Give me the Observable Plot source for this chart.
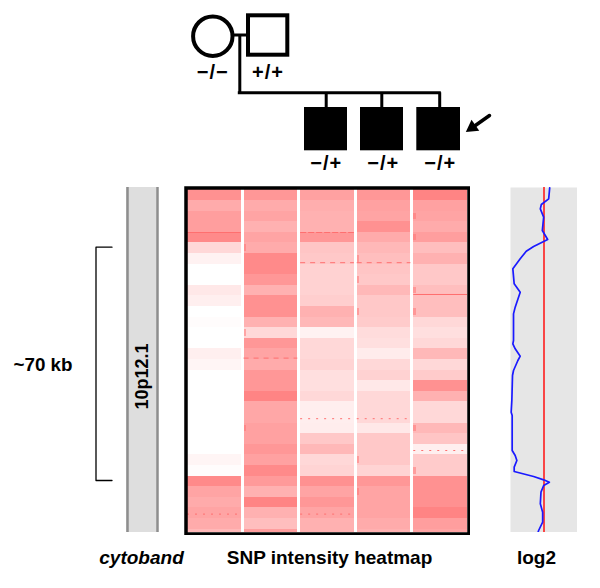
<!DOCTYPE html>
<html>
<head>
<meta charset="utf-8">
<script src="https://cdn.jsdelivr.net/npm/d3@7"></script>
<script src="https://cdn.jsdelivr.net/npm/@observablehq/plot@0.6"></script>
<style>
html,body{margin:0;padding:0;background:#fff}
#chart{position:relative;width:600px;height:588px;overflow:hidden}
.geno text{letter-spacing:1px}
</style>
</head>
<body>
<div id="chart"></div>
<script>
// SNP intensity (0 = white, 1 = full) per sample, top to bottom
const sample1 = [.85,.65,.75,.75,.9,.3,.1,0,0,.18,.12,0,.02,0,0,.12,.08,0,0,0,0,0,0,0,0,.08,.02,.9,.7,.65,.7,.65,.55];
const sample2 = [.8,.65,.7,.6,.7,.65,.9,.9,.8,.6,.85,.85,.6,.3,.8,.7,.65,.8,.8,.95,.68,.68,.72,.72,.8,.72,.9,.78,.6,.95,.6,.5,.75];
const sample3 = [.72,.62,.6,.6,.8,.45,.42,.35,.35,.35,.38,.6,.55,.1,.3,.3,.33,.25,.25,.3,.13,.13,.14,.42,.55,.3,.33,.85,.7,.8,.7,.6,.6];
const sample4 = [.8,.72,.7,.85,.65,.55,.5,.45,.42,.55,.42,.42,.4,.27,.25,.15,.3,.35,.18,.3,.3,.3,.18,.42,.42,.42,.33,.8,.7,.7,.7,.65,.6];
const sample5 = [.95,.72,.7,.65,.75,.5,.6,.42,.42,.5,.5,.5,.3,.25,.3,.55,.3,.4,.85,.6,.3,.3,.55,.45,.12,.4,.4,.85,.85,.85,.95,.75,.7];
const heatColumns = [sample1, sample2, sample3, sample4, sample5];

// log2 ratio trace along the region (position in kb)
const log2Pos = [0.1,3.4,5.1,6.4,8.9,12.9,15.6,17.7,19.1,21.4,24.4,28.9,31.4,35.9,37.9,45.9,46.9,48.4,50.6,51.9,54.9,56.4,63.9,67.4,68.4,78.9,80.4,81.9,83.9,85.2,86.7,87.7,88.4,89.4,91.4,94.9,97.4,100.4,102.9,103.5];
const log2Val = [.17,.14,-.08,-.11,-.01,-.05,.11,-.31,-.53,-.71,-.93,-.89,-.71,-.86,-.91,-.91,-.93,-.86,-.71,-.78,-.91,-.94,-.96,-.98,-.95,-.95,-.86,-.81,-.89,-.89,-.31,-.01,.16,-.01,-.09,-.11,-.04,-.04,-.16,-.18];

const parentGenotypes = ["\u2212/\u2212", "+/+"];
const childGenotypes = ["\u2212/+", "\u2212/+", "\u2212/+"];
const panelLabels = ["SNP intensity heatmap", "log2"];
const bandName = "10p12.1";
const spanLabel = "~70 kb";

// thin streaks in the heatmap: [sample, row]
const solidTopStreaks = [[0,4]];
const dashedTopStreaks = [[2,4]];
const solidLowStreaks = [[4,9]];
const dashedLowStreaks = [[2,6],[3,6],[1,15]];
const dottedMidStreaks = [[0,30],[2,30],[4,24],[2,21],[3,21]];
// short darker stubs on the left edge of a column: [sample, row]
const edgeStubs = [[1,5],[1,13],[1,22],[3,6],[3,8],[3,11],[3,25],[3,28],[4,2],[4,4],[4,9],[4,11],[4,22],[4,26]];

const rows = d3.range(sample1.length);
const samples = d3.range(heatColumns.length);
const cells = samples.flatMap(s => rows.map(r => ({s, r, v: heatColumns[s][r]})));
const color = d3.scaleLinear().domain([0,1]).range(["#ffffff","#ff7d7d"]);
const font = "'Liberation Sans', Arial, sans-serif";
const root = document.getElementById("chart");

// Diagram layer: pedigree, cytoband, bracket and labels
const pos = (l,t) => ({position:"absolute",left:l+"px",top:t+"px",background:"transparent",maxWidth:"none"});
const txt = {fontFamily:font, fontWeight:"bold", fill:"#000", textAnchor:"middle"};
const base = Plot.plot({
  width:600, height:588, margin:0, style:pos(0,0),
  x:{domain:[0,600],range:[0,600],axis:null},
  y:{domain:[0,588],range:[0,588],axis:null},
  marks:[
    // cytoband
    Plot.rect([0],{x1:126,x2:158,y1:187,y2:532,fill:"#dedede"}),
    Plot.ruleX([127,157],{y1:187,y2:532,stroke:"#8e8e8e",strokeWidth:2.5}),
    Plot.text([bandName],{x:142,y:376,text:d=>d,rotate:-90,fontSize:18,...txt}),
    // bracket
    Plot.line([[111.5,246.7],[95.5,246.7],[95.5,480],[111.5,480]],{x:"0",y:"1",stroke:"#000",strokeWidth:1.3}),
    Plot.text([spanLabel],{x:42.5,y:364,text:d=>d,fontSize:18.8,...txt}),
    // pedigree lines
    Plot.ruleY([34.5],{x1:233,x2:247,stroke:"#000",strokeWidth:3}),
    Plot.ruleX([239.3],{y1:34.5,y2:93.8,stroke:"#000",strokeWidth:3}),
    Plot.ruleY([92.3],{x1:237.8,x2:440.8,stroke:"#000",strokeWidth:3}),
    Plot.ruleX([325.7,381.3,439.2],{y1:92.3,y2:107,stroke:"#000",strokeWidth:3}),
    // parents
    Plot.dot([0],{x:212.3,y:35.7,r:19.7,fill:"#fff",stroke:"#000",strokeWidth:4}),
    Plot.rect([0],{x1:248,x2:287.3,y1:15.3,y2:54.7,fill:"#fff",stroke:"#000",strokeWidth:4}),
    // children
    Plot.rect([[304,347],[360,403],[416.3,460]],{x1:"0",x2:"1",y1:107,y2:150.3,fill:"#000"}),
    // proband arrow
    Plot.line([[489,115],[472,127]],{x:"0",y:"1",stroke:"#000",strokeWidth:3.5}),
    Plot.dot([0],{x:471.7,y:127,r:5,symbol:"triangle",rotate:235,fill:"#000",stroke:"none"}),
    // genotypes
    Plot.text(parentGenotypes,{x:[212.3,267.5],y:[72.5,72.5],text:d=>d,fontSize:20,className:"geno",...txt}),
    Plot.text(childGenotypes,{x:[325.7,382.8,439.7],y:[163.5,163.5,163.5],text:d=>d,fontSize:20,className:"geno",...txt}),
    // panel captions
    Plot.text(["cytoband"],{x:141,y:557,text:d=>d,fontSize:19,fontStyle:"italic",...txt}),
    Plot.text(panelLabels,{x:[329,536],y:[557,557],text:d=>d,fontSize:19,...txt})
  ]
});
root.appendChild(base);

// Heatmap panel
const rowH = 10.6;
const streakStroke = "#ff6f6f";
const heat = Plot.plot({
  width:286, height:349, marginTop:3, marginBottom:3, marginLeft:3, marginRight:3,
  style:pos(184,186),
  x:{type:"band",domain:samples,range:[3,283],paddingInner:.05,paddingOuter:0,round:false,axis:null},
  y:{type:"band",domain:rows,range:[3.3,3.3+rowH*rows.length],padding:0,round:false,axis:null},
  marks:[
    Plot.cell(cells,{x:"s",y:"r",fill:d=>color(d.v),inset:0,clip:"frame",shapeRendering:"crispEdges"}),
    Plot.cell(edgeStubs,{x:"0",y:"1",fill:streakStroke,insetRight:51.5,insetTop:2,insetBottom:2,fillOpacity:.5,shapeRendering:"crispEdges"}),
    Plot.tickY(solidTopStreaks,{x:"0",y:"1",dy:-5,stroke:streakStroke,strokeWidth:1}),
    Plot.tickY(dashedTopStreaks,{x:"0",y:"1",dy:-5,stroke:streakStroke,strokeWidth:1,strokeDasharray:"6,2"}),
    Plot.tickY(solidLowStreaks,{x:"0",y:"1",dy:4,stroke:streakStroke,strokeWidth:1}),
    Plot.tickY(dashedLowStreaks,{x:"0",y:"1",dy:4,stroke:streakStroke,strokeWidth:1,strokeDasharray:"5,5"}),
    Plot.tickY(dottedMidStreaks,{x:"0",y:"1",dy:1,stroke:streakStroke,strokeWidth:1,strokeDasharray:"2,6"}),
    Plot.frame({stroke:"#000",strokeWidth:3.5,inset:-1.5})
  ]
});
root.appendChild(heat);

// log2 panel
const trace = log2Pos.map((p,i)=>({p,v:log2Val[i]}));
const log2 = Plot.plot({
  width:67, height:345, margin:0, style:pos(510,187),
  x:{domain:[-1,1],range:[0,67],axis:null},
  y:{domain:[0,103.5],range:[0,345],axis:null},
  marks:[
    Plot.frame({fill:"#e6e6e6",stroke:"none"}),
    Plot.ruleX([0],{stroke:"#ff1010",strokeWidth:1.5}),
    Plot.line(trace,{x:"v",y:"p",stroke:"#1a1aff",strokeWidth:1.7})
  ]
});
root.appendChild(log2);
</script>
</body>
</html>
